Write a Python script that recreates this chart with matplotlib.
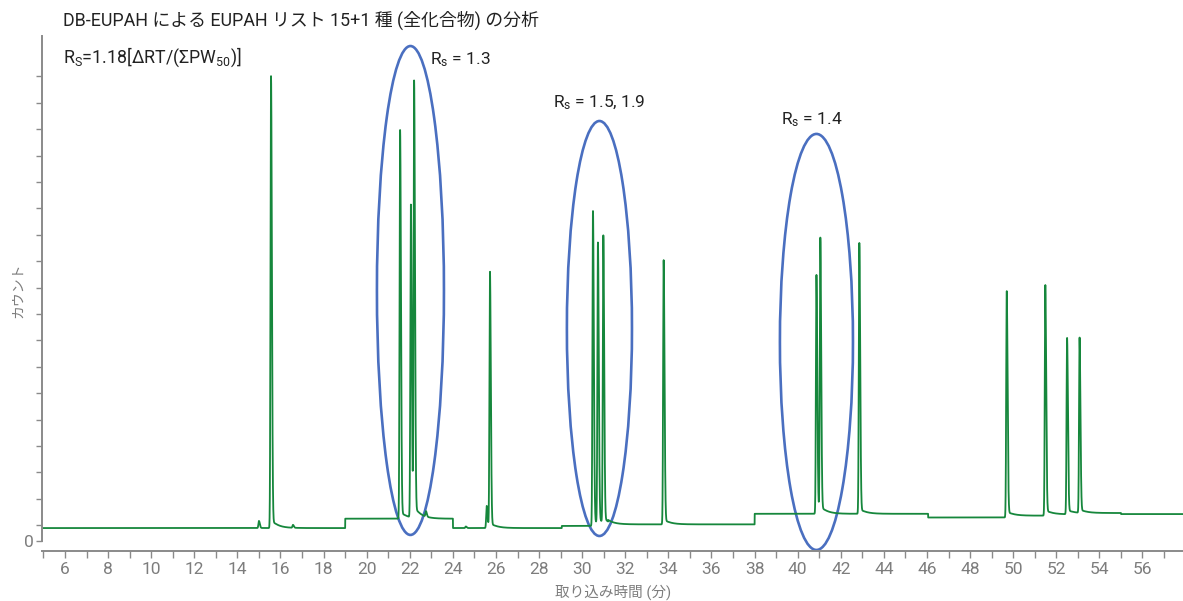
import numpy as np
import matplotlib
matplotlib.use("Agg")
import matplotlib.pyplot as plt
from matplotlib.patches import Ellipse
from matplotlib.ticker import FixedLocator

plt.rcParams['font.family'] = ['Roboto', 'Noto Sans CJK JP', 'DejaVu Sans']
plt.rcParams['mathtext.fontset'] = 'custom'
plt.rcParams['mathtext.rm'] = 'Roboto'
plt.rcParams['mathtext.it'] = 'Roboto'

# ---------------- data ----------------
title = "DB-EUPAH による EUPAH リスト 15+1 種 (全化合物) の分析"
xlabel = "取り込み時間 (分)"
ylabel = "カウント"

# retention times (min) and apex heights (axis units, 0 = zero counts)
peak_times = [15.00, 15.56, 16.58, 21.55, 22.05, 22.20, 22.75, 24.60, 25.57, 25.72,
              30.50, 30.73, 30.98, 33.78, 40.87, 41.05, 42.86,
              49.70, 51.49, 52.50, 53.08]
peak_tops = [0.76, 17.61, 0.60, 15.57, 12.69, 17.27, 1.05, 0.55, 1.33, 10.19,
             12.50, 11.20, 11.44, 10.64, 10.08, 11.40, 11.29,
             9.47, 9.70, 7.69, 7.69]

# baseline level segments: start time, level
base_starts = [4.90, 19.00, 24.00, 29.05, 31.20, 38.00, 46.05, 49.70, 51.49, 52.50, 53.08, 55.00]
base_levels = [0.49, 0.845, 0.49, 0.57, 0.63, 1.03, 0.89, 0.96, 1.01, 1.05, 1.06, 1.02]

# ellipses: centre x (min), centre y, width (min), height
ell_x = [22.03, 30.80, 40.87]
ell_y = [9.49, 8.05, 7.54]
ell_w = [3.11, 3.02, 3.39]
ell_h = [18.52, 15.72, 15.76]

# x ticks
x_major = list(range(6, 57, 2))
x_minor = list(range(5, 58, 1))
# y ticks (only zero is labelled)
y_ticks = [0.0] + [0.6 + k for k in range(18)]

# ---------------- build trace ----------------
t = np.arange(4.90, 57.95, 0.002)
idx = np.searchsorted(base_starts, t, side='right') - 1
sig = np.array(base_levels)[idx]


def base_at(x):
    return base_levels[np.searchsorted(base_starts, x, side='right') - 1]


for c, top in zip(peak_times, peak_tops):
    amp = top - base_at(c)
    sl, sr = 0.024, 0.04
    left = t < c
    g = np.where(left, np.exp(-0.5 * ((t - c) / sl) ** 2), np.exp(-0.5 * ((t - c) / sr) ** 2))
    dt = np.clip(t - c, 0, None)
    tail = np.where(t > c, 0.02 * amp * (np.exp(-dt / 0.3) - np.exp(-dt / 0.05)), 0.0)
    sig = sig + amp * g + tail

# ---------------- figure ----------------
W, H = 1183, 601
fig = plt.figure(figsize=(W / 100, H / 100), dpi=100)
ax = fig.add_axes([42 / W, (H - 551) / H, (W - 42) / W, (551 - 36) / H])

ax.plot(t, sig, color='#16873c', lw=1.3, solid_joinstyle='round')

for cx, cy, w, h in zip(ell_x, ell_y, ell_w, ell_h):
    ax.add_patch(Ellipse((cx, cy), w, h, fill=False, edgecolor='#4a6fc0', lw=1.9, clip_on=False))

ax.set_xlim(4.933, 57.88)
ax.set_ylim(-0.379, 19.13)

gray = '#8a8a8a'
for s in ['top', 'right']:
    ax.spines[s].set_visible(False)
for s in ['left', 'bottom']:
    ax.spines[s].set_color(gray)
    ax.spines[s].set_linewidth(1.4)
ax.spines['left'].set_bounds(0, 19.13)

ax.xaxis.set_major_locator(FixedLocator(x_major))
ax.xaxis.set_minor_locator(FixedLocator(x_minor))
ax.set_xticklabels([str(v) for v in x_major])
ax.tick_params(axis='x', which='both', length=5, width=1.0, color=gray, labelcolor='#7d7d7d',
               labelsize=12.5, pad=3)
ax.yaxis.set_major_locator(FixedLocator(y_ticks))
ax.set_yticklabels(['0'] + [''] * 18)
ax.tick_params(axis='y', which='both', length=4, width=1.0, color=gray, labelcolor='#7d7d7d',
               labelsize=12.5, pad=2)

fig.text(613 / W, 1 - 592 / H, xlabel, ha='center', va='center', color='#7d7d7d', fontsize=10.5)
fig.text(18 / W, 1 - 290 / H, ylabel, ha='center', va='center', rotation=90, color='#7d7d7d', fontsize=10)

fig.text(63 / W, 1 - 20 / H, title, ha='left', va='center', color='#222222', fontsize=12.9)
fig.text(63 / W, 1 - 57 / H, r'$\mathregular{R_S}$=1.18[ΔRT/(ΣPW$\mathregular{_{50}}$)]',
         ha='left', va='center', color='#222222', fontsize=12.8)
fig.text(430 / W, 1 - 60 / H, r'$\mathregular{R_s}$ = 1.3', ha='left', va='center', color='#222222', fontsize=12.5)
fig.text(553 / W, 1 - 103 / H, r'$\mathregular{R_s}$ = 1.5, 1.9', ha='left', va='center', color='#222222', fontsize=12.5)
fig.text(781 / W, 1 - 120 / H, r'$\mathregular{R_s}$ = 1.4', ha='left', va='center', color='#222222', fontsize=12.5)

fig.savefig('out.png', dpi=100)
